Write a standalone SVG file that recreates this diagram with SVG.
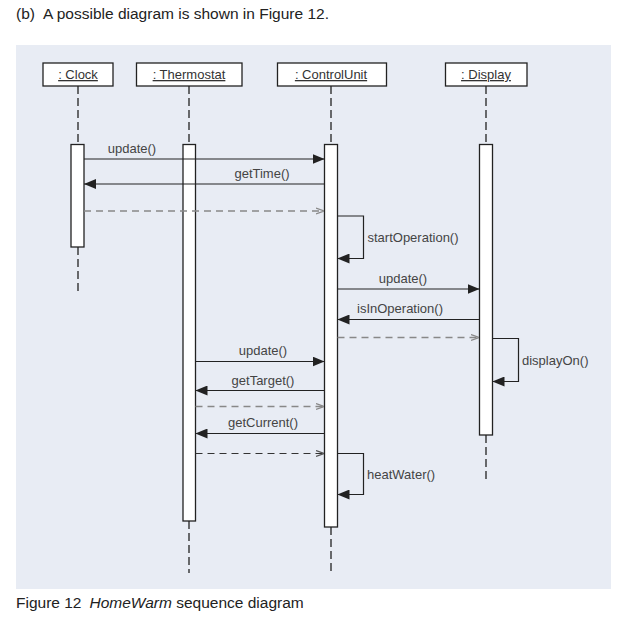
<svg xmlns="http://www.w3.org/2000/svg" width="623" height="626" viewBox="0 0 623 626">
<defs>
<style>
.hdr{font-family:"Liberation Sans",Arial,sans-serif;font-size:15.5px;fill:#222}
.obj{fill:#fff;stroke:#222;stroke-width:1.3}
.olbl{font-family:"Liberation Sans",Arial,sans-serif;font-size:13px;fill:#333;text-anchor:middle;text-decoration:underline}
.life{stroke:#222;stroke-width:1.3;stroke-dasharray:8 4;fill:none}
.act{fill:#fff;stroke:#222;stroke-width:1.3}
.msg{stroke:#222;stroke-width:1.2;fill:none}
.ret{stroke:#888;stroke-width:1.3;stroke-dasharray:7 5;fill:none}
.ret2{stroke:#333;stroke-width:1.2;stroke-dasharray:7 5;fill:none}
.mlbl{font-family:"Liberation Sans",Arial,sans-serif;font-size:13px;fill:#444}
.c{text-anchor:middle}
</style>
<marker id="fa" viewBox="0 0 12 10" refX="12" refY="5" markerWidth="12" markerHeight="10" markerUnits="userSpaceOnUse" orient="auto">
<path d="M0,0 L12,5 L0,10 Z" fill="#222"/>
</marker>
<marker id="oa" viewBox="0 0 8 8" refX="8" refY="4" markerWidth="8" markerHeight="8" markerUnits="userSpaceOnUse" orient="auto">
<path d="M0,1 L8,4 L0,7" fill="none" stroke="#888" stroke-width="1.2"/>
</marker>
<marker id="oa2" viewBox="0 0 8 8" refX="8" refY="4" markerWidth="8" markerHeight="8" markerUnits="userSpaceOnUse" orient="auto">
<path d="M0,1 L8,4 L0,7" fill="none" stroke="#555" stroke-width="1.2"/>
</marker>
</defs>
<rect x="0" y="0" width="623" height="626" fill="#fff"/>
<text class="hdr" x="16" y="19">(b)<tspan dx="8">A possible diagram is shown in Figure 12.</tspan></text>
<rect x="16" y="45" width="595" height="544" fill="#e8ecf4"/>
<text class="hdr" x="16" y="608">Figure 12<tspan dx="8" font-style="italic">HomeWarm</tspan> sequence diagram</text>

<g id="clock">
<rect class="obj" x="43" y="63" width="70" height="23"/>
<text class="olbl" x="78" y="79">: Clock</text>
<line class="life" x1="78" y1="86" x2="78" y2="144"/>
<line class="life" x1="78" y1="247" x2="78" y2="293"/>
<rect class="act" x="71" y="144.5" width="13" height="102.5"/>
</g>
<g id="thermostat">
<rect class="obj" x="136.5" y="63" width="105.5" height="23"/>
<text class="olbl" x="189" y="79">: Thermostat</text>
<line class="life" x1="189" y1="86" x2="189" y2="144"/>
<line class="life" x1="189" y1="521" x2="189" y2="573"/>
<rect class="act" x="183" y="144.5" width="12.5" height="376.5"/>
</g>
<g id="controlunit">
<rect class="obj" x="277.5" y="63" width="109" height="23"/>
<text class="olbl" x="331" y="79">: ControlUnit</text>
<line class="life" x1="331" y1="86" x2="331" y2="144"/>
<line class="life" x1="331" y1="527" x2="331" y2="573"/>
<rect class="act" x="324.5" y="144.5" width="13" height="382.5"/>
</g>
<g id="display">
<rect class="obj" x="445.5" y="63" width="81.5" height="23"/>
<text class="olbl" x="486" y="79">: Display</text>
<line class="life" x1="486" y1="86" x2="486" y2="144"/>
<line class="life" x1="486" y1="435" x2="486" y2="482"/>
<rect class="act" x="479.5" y="144.5" width="13" height="290.5"/>
</g>

<g id="connectors">
<line class="msg" x1="84" y1="159" x2="324.5" y2="159" marker-end="url(#fa)"/>
<text class="mlbl c" x="132" y="153">update()</text>
<line class="msg" x1="324.5" y1="184" x2="84" y2="184" marker-end="url(#fa)"/>
<text class="mlbl c" x="262" y="178">getTime()</text>
<line class="ret" x1="84" y1="211" x2="324" y2="211" marker-end="url(#oa)"/>

<path class="msg" d="M337.5,216 H363.5 V258.5 H337.5" marker-end="url(#fa)"/>
<text class="mlbl" x="367.5" y="242">startOperation()</text>

<line class="msg" x1="337.5" y1="289" x2="479.5" y2="289" marker-end="url(#fa)"/>
<text class="mlbl c" x="403" y="283">update()</text>
<line class="msg" x1="479.5" y1="319.5" x2="337.5" y2="319.5" marker-end="url(#fa)"/>
<text class="mlbl c" x="400" y="313">isInOperation()</text>
<line class="ret" x1="337.5" y1="337.5" x2="479" y2="337.5" marker-end="url(#oa)"/>

<path class="msg" d="M492.5,338.5 H518.5 V381.5 H492.5" marker-end="url(#fa)"/>
<text class="mlbl" x="522" y="365">displayOn()</text>

<line class="msg" x1="195.5" y1="361.5" x2="324.5" y2="361.5" marker-end="url(#fa)"/>
<text class="mlbl c" x="263" y="355">update()</text>
<line class="msg" x1="324.5" y1="390.5" x2="195.5" y2="390.5" marker-end="url(#fa)"/>
<text class="mlbl c" x="263" y="385">getTarget()</text>
<line class="ret" x1="195.5" y1="406.5" x2="324" y2="406.5" marker-end="url(#oa)"/>
<line class="msg" x1="324.5" y1="433.5" x2="195.5" y2="433.5" marker-end="url(#fa)"/>
<text class="mlbl c" x="263" y="427">getCurrent()</text>
<line class="ret2" x1="195.5" y1="453.5" x2="324" y2="453.5" marker-end="url(#oa2)"/>

<path class="msg" d="M337.5,453.5 H363.5 V494.5 H337.5" marker-end="url(#fa)"/>
<text class="mlbl" x="367" y="479">heatWater()</text>
</g>
</svg>
